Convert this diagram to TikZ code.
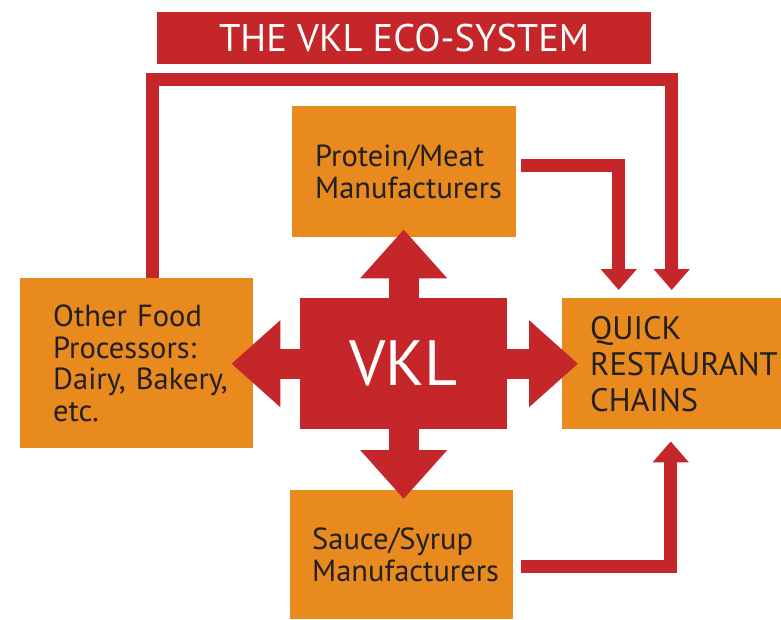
\documentclass[tikz,border=0pt]{standalone}
\usepackage{fontspec}
\setmainfont{PT Sans}
\usetikzlibrary{arrows.meta,calc}
\definecolor{vklred}{HTML}{C4262A}
\definecolor{vklorange}{HTML}{E88A1E}
\definecolor{vklink}{HTML}{231F20}
\newcommand\boxfont{\fontsize{30.5}{31.5}\selectfont\hyphenpenalty=10000\relax}
\newcommand\chainfont{\fontsize{32.5}{36}\selectfont\hyphenpenalty=10000\relax}

\begin{document}
\begin{tikzpicture}[x=1pt,y=-1pt,
		box/.style={fill=vklorange,text=vklink,anchor=north west,align=left,inner ysep=0pt,font=\boxfont},
		flow/.style={draw=vklred,line width=13pt,-{Triangle[width=35pt,length=21pt]}},
		bigflow/.style={draw=vklred,line width=30pt,-{Triangle[width=84pt,length=49pt]}}]
		\useasboundingbox (0,0) rectangle (781,619);
		% boxes
		\node (title) at (157,12) [anchor=north west,fill=vklred,text=white,minimum width=494pt,minimum height=52pt,
			font=\fontsize{38.5}{38.5}\selectfont] {THE VKL ECO-SYSTEM};
		\node (prot) at (292,106) [box,inner xsep=23pt,minimum width=224pt,minimum height=131pt,text width=178pt]
			{Protein/Meat\\Manufacturers};
		\node (other) at (20,278) [box,inner xsep=33pt,minimum width=233pt,minimum height=170pt,text width=167pt]
			{Other Food\\Processors:\\Dairy,~Bakery,\\etc.};
		\node (qrc) at (562,298) [box,inner xsep=28pt,minimum width=219pt,minimum height=131pt,text width=163pt,
			font=\chainfont] {QUICK\\RESTAURANT\\CHAINS};
		\node (sauce) at (290,490) [box,inner xsep=22pt,minimum width=223pt,minimum height=129pt,text width=179pt]
			{Sauce/Syrup\\Manufacturers};
		\node (vkl) at (300,298) [anchor=north west,fill=vklred,text=white,minimum width=207pt,minimum height=131pt,
			font=\fontsize{64}{64}\selectfont] {VKL};
		% arrows out of VKL
		\draw[bigflow] (vkl.north) -- ($(vkl.north |- prot.south)+(0,-8)$);
		\draw[bigflow] (vkl.south) -- ($(vkl.south |- sauce.north)+(0,9)$);
		\draw[bigflow] (vkl.west) -- ($(vkl.west -| other.east)+(-22,0)$);
		\draw[bigflow] (vkl.east) -- ($(vkl.east -| qrc.west)+(16,0)$);
		% into the restaurant chains
		\draw[flow] ([xshift=16pt]other.north) |- ($(qrc.north)+(0,-219)$) -- ($(qrc.north)+(0,-8)$);
		\draw[flow] ($(prot.east)+(5,-6)$) -| ($(qrc.north)+(-53,-8)$);
		\draw[flow] ($(sauce.east)+(8,11.5)$) -| ($(qrc.south)+(-1,12)$);
	\end{tikzpicture}
\end{document}
